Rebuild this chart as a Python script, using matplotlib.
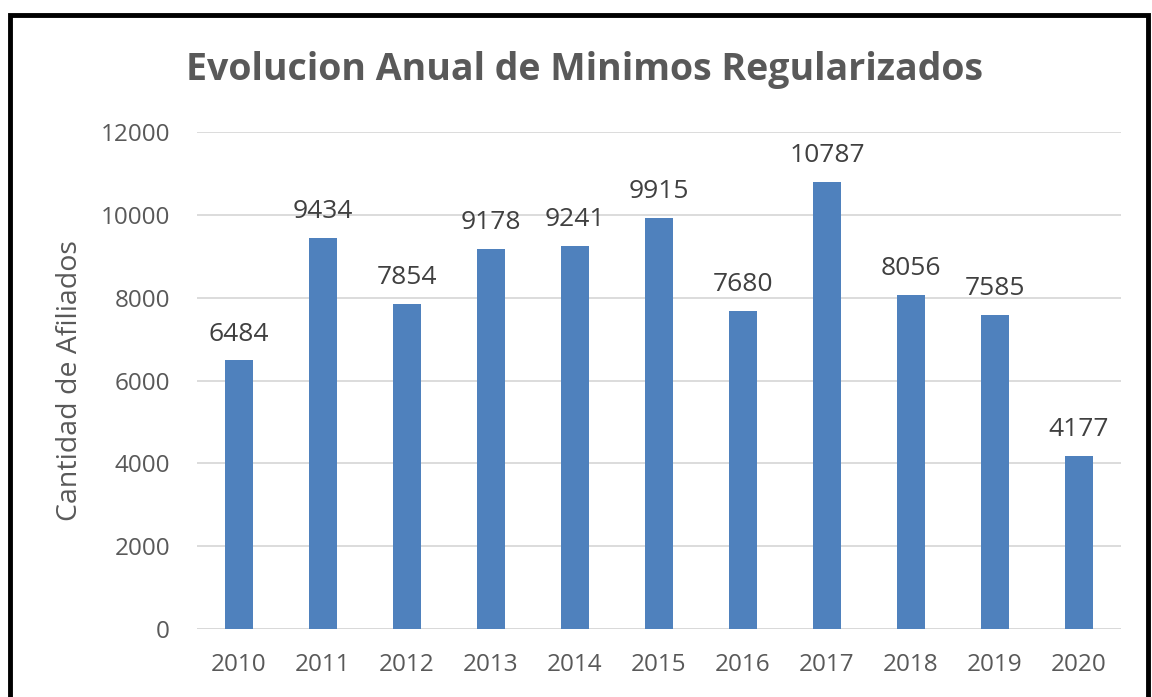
import matplotlib
matplotlib.use("Agg")
import matplotlib.pyplot as plt
from matplotlib.patches import Rectangle

years = ["2010", "2011", "2012", "2013", "2014", "2015", "2016", "2017", "2018", "2019", "2020"]
values = [6484, 9434, 7854, 9178, 9241, 9915, 7680, 10787, 8056, 7585, 4177]
yticks = [0, 2000, 4000, 6000, 8000, 10000, 12000]

plt.rcParams['font.family'] = ['Open Sans', 'DejaVu Sans']
gray = '#595959'

fig = plt.figure(figsize=(11.52, 6.97), dpi=100)
ax = fig.add_axes([197/1152, 1-629/697, (1121-197)/1152, (629-132)/697])

x = list(range(len(years)))
ax.bar(x, values, width=0.33, color='#4F81BD', zorder=3)
for xi, v in zip(x, values):
    ax.annotate(str(v), (xi, v), xytext=(0, 10), textcoords='offset points',
                ha='center', va='bottom', fontsize=19, color='#404040')

ax.set_xlim(-0.5, len(years) - 0.5)
ax.set_ylim(0, 12000)
ax.set_yticks(yticks)
ax.set_yticklabels([str(t) for t in yticks])
ax.set_xticks(x)
ax.set_xticklabels(years)
ax.tick_params(axis='both', length=0, labelsize=17.5, labelcolor=gray)
ax.tick_params(axis='y', pad=19.5)
ax.tick_params(axis='x', pad=17)
ax.grid(axis='y', color='#D9D9D9', linewidth=1.3, zorder=0)
for s in ax.spines.values():
    s.set_visible(False)
ax.axhline(0, color='#D9D9D9', linewidth=1.3, zorder=1)

ax.set_ylabel('Cantidad de Afiliados', fontsize=20.5, color=gray)
ax.yaxis.set_label_coords(-113/924, 0.5)

fig.text(584/1152, 1-70/697, 'Evolucion Anual de Minimos Regularizados',
         ha='center', va='center', fontsize=27, fontweight='bold', color=gray)

fig.patches.append(Rectangle((10/1152, -0.05), (1148-10)/1152, 1.05 - 15/697,
                             transform=fig.transFigure, fill=False,
                             edgecolor='black', linewidth=3.5, clip_on=False))

fig.savefig('out.png', dpi=100)
